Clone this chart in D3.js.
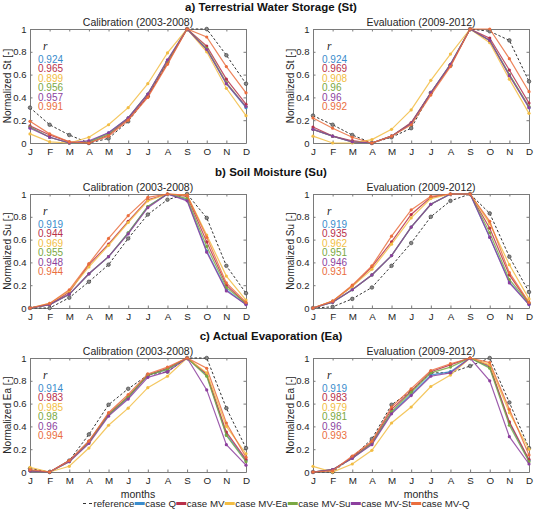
<!DOCTYPE html>
<html>
<head>
<meta charset="utf-8">
<script src="https://cdn.jsdelivr.net/npm/d3@7"></script>
<style>
  body { margin: 0; background: #fff; }
  svg { font-family: "Liberation Sans", Arial, sans-serif; }
</style>
</head>
<body>
<script>
// months and series names
const months = ["J", "F", "M", "A", "M", "J", "J", "A", "S", "O", "N", "D"];
const seriesNames = ["reference", "case Q", "case MV", "case MV-Ea", "case MV-Su", "case MV-St", "case MV-Q"];
const seriesColors = ["#333333", "#3a8ccc", "#b8304a", "#f2bd44", "#7aa843", "#8c3f9e", "#ea6e3e"];

// a) Terrestrial Water Storage - each row: reference, Q, MV, MV-Ea, MV-Su, MV-St, MV-Q
const stCal = [
  [0.31, 0.16, 0.07, 0.00, 0.04, 0.19, 0.41, 0.71, 1.00, 1.00, 0.77, 0.52],
  [0.14, 0.05, 0.00, 0.01, 0.09, 0.22, 0.43, 0.72, 1.00, 0.82, 0.52, 0.31],
  [0.15, 0.07, 0.01, 0.00, 0.07, 0.21, 0.41, 0.70, 1.00, 0.85, 0.56, 0.34],
  [0.08, 0.01, 0.00, 0.05, 0.16, 0.31, 0.52, 0.79, 1.00, 0.80, 0.48, 0.24],
  [0.14, 0.05, 0.00, 0.01, 0.08, 0.22, 0.43, 0.72, 1.00, 0.83, 0.53, 0.32],
  [0.13, 0.05, 0.00, 0.02, 0.09, 0.22, 0.43, 0.73, 1.00, 0.82, 0.52, 0.32],
  [0.19, 0.08, 0.01, 0.00, 0.06, 0.20, 0.40, 0.69, 1.00, 0.93, 0.67, 0.44]
];
const stEval = [
  [0.24, 0.16, 0.07, 0.00, 0.05, 0.13, 0.44, 0.68, 1.00, 0.98, 0.90, 0.54],
  [0.12, 0.06, 0.01, 0.00, 0.06, 0.17, 0.44, 0.69, 1.00, 0.90, 0.60, 0.31],
  [0.14, 0.06, 0.02, 0.00, 0.06, 0.18, 0.44, 0.68, 1.00, 0.92, 0.64, 0.35],
  [0.06, 0.00, 0.00, 0.03, 0.12, 0.29, 0.55, 0.78, 1.00, 0.88, 0.56, 0.26],
  [0.12, 0.06, 0.01, 0.00, 0.06, 0.17, 0.44, 0.69, 1.00, 0.90, 0.60, 0.32],
  [0.12, 0.06, 0.01, 0.00, 0.06, 0.17, 0.44, 0.69, 1.00, 0.90, 0.59, 0.31],
  [0.22, 0.13, 0.05, 0.00, 0.06, 0.16, 0.42, 0.67, 1.00, 1.00, 0.74, 0.45]
];
// b) Soil Moisture
const suCal = [
  [0.00, 0.00, 0.09, 0.23, 0.38, 0.61, 0.82, 0.95, 1.00, 0.79, 0.37, 0.13],
  [0.00, 0.03, 0.12, 0.30, 0.45, 0.66, 0.89, 1.00, 0.95, 0.50, 0.16, 0.03],
  [0.00, 0.03, 0.14, 0.38, 0.56, 0.76, 0.95, 1.00, 0.98, 0.58, 0.20, 0.04],
  [0.00, 0.04, 0.15, 0.36, 0.55, 0.75, 0.94, 1.00, 0.99, 0.64, 0.28, 0.07],
  [0.00, 0.03, 0.12, 0.30, 0.45, 0.66, 0.89, 1.00, 0.96, 0.54, 0.18, 0.04],
  [0.00, 0.03, 0.12, 0.30, 0.45, 0.65, 0.88, 1.00, 0.94, 0.49, 0.15, 0.03],
  [0.00, 0.04, 0.16, 0.39, 0.61, 0.81, 0.97, 1.00, 0.99, 0.62, 0.22, 0.05]
];
const suEval = [
  [0.00, 0.01, 0.08, 0.18, 0.37, 0.57, 0.80, 0.94, 1.00, 0.83, 0.45, 0.14],
  [0.00, 0.05, 0.16, 0.29, 0.46, 0.71, 0.91, 1.00, 1.00, 0.62, 0.23, 0.03],
  [0.00, 0.06, 0.19, 0.36, 0.58, 0.82, 0.97, 1.00, 1.00, 0.70, 0.29, 0.04],
  [0.00, 0.06, 0.19, 0.34, 0.56, 0.79, 0.96, 1.00, 1.00, 0.74, 0.38, 0.08],
  [0.00, 0.05, 0.16, 0.29, 0.46, 0.71, 0.91, 1.00, 1.00, 0.66, 0.25, 0.04],
  [0.00, 0.05, 0.16, 0.29, 0.46, 0.71, 0.91, 1.00, 1.00, 0.62, 0.22, 0.03],
  [0.00, 0.06, 0.20, 0.37, 0.63, 0.86, 0.98, 1.00, 1.00, 0.76, 0.31, 0.05]
];
// c) Actual Evaporation
const eaCal = [
  [0.03, 0.00, 0.10, 0.33, 0.59, 0.73, 0.85, 0.88, 1.00, 1.00, 0.56, 0.21],
  [0.01, 0.00, 0.10, 0.26, 0.50, 0.65, 0.85, 0.90, 1.00, 0.85, 0.33, 0.10],
  [0.01, 0.00, 0.10, 0.27, 0.51, 0.66, 0.85, 0.91, 1.00, 0.86, 0.35, 0.11],
  [0.04, 0.00, 0.05, 0.21, 0.41, 0.56, 0.74, 0.84, 1.00, 0.87, 0.40, 0.16],
  [0.01, 0.00, 0.09, 0.26, 0.50, 0.66, 0.85, 0.90, 1.00, 0.84, 0.32, 0.09],
  [0.01, 0.00, 0.09, 0.25, 0.49, 0.64, 0.83, 0.88, 1.00, 0.72, 0.24, 0.06],
  [0.02, 0.00, 0.10, 0.27, 0.52, 0.68, 0.86, 0.92, 1.00, 0.91, 0.43, 0.13]
];
const eaEval = [
  [0.00, 0.00, 0.13, 0.29, 0.59, 0.71, 0.87, 0.87, 0.93, 1.00, 0.61, 0.21],
  [0.00, 0.02, 0.12, 0.25, 0.52, 0.68, 0.85, 0.88, 1.00, 0.92, 0.43, 0.10],
  [0.00, 0.02, 0.13, 0.26, 0.55, 0.71, 0.88, 0.94, 1.00, 0.93, 0.44, 0.11],
  [0.05, 0.00, 0.07, 0.19, 0.43, 0.57, 0.75, 0.85, 1.00, 0.94, 0.52, 0.20],
  [0.00, 0.02, 0.12, 0.25, 0.53, 0.70, 0.87, 0.92, 1.00, 0.91, 0.41, 0.09],
  [0.00, 0.02, 0.12, 0.24, 0.51, 0.67, 0.84, 0.87, 1.00, 0.80, 0.31, 0.07],
  [0.00, 0.01, 0.14, 0.27, 0.57, 0.73, 0.89, 0.95, 1.00, 0.96, 0.55, 0.15]
];

// correlation coefficients (Q, MV, MV-Ea, MV-Su, MV-St, MV-Q)
const stCalR = ["0.924", "0.965", "0.899", "0.956", "0.957", "0.991"];
const stEvalR = ["0.924", "0.969", "0.908", "0.96", "0.96", "0.992"];
const suCalR = ["0.919", "0.944", "0.969", "0.955", "0.948", "0.944"];
const suEvalR = ["0.919", "0.935", "0.962", "0.951", "0.946", "0.931"];
const eaCalR = ["0.914", "0.983", "0.985", "0.98", "0.96", "0.994"];
const eaEvalR = ["0.919", "0.983", "0.979", "0.981", "0.96", "0.993"];

const rowTitles = ["a) Terrestrial Water Storage (St)", "b) Soil Moisture (Su)", "c) Actual Evaporation (Ea)"];
const yLabels = ["Normalized St [-]", "Normalized Su [-]", "Normalized Ea [-]"];
const colTitles = ["Calibration (2003-2008)", "Evaluation (2009-2012)"];
const yTicks = [0, 0.2, 0.4, 0.6, 0.8, 1];

const panels = [
  { row: 0, col: 0, data: stCal, r: stCalR },
  { row: 0, col: 1, data: stEval, r: stEvalR },
  { row: 1, col: 0, data: suCal, r: suCalR },
  { row: 1, col: 1, data: suEval, r: suEvalR },
  { row: 2, col: 0, data: eaCal, r: eaCalR },
  { row: 2, col: 1, data: eaEval, r: eaEvalR }
];

const width = 535, height = 510;
const plotW = 216, plotH = 114;
const colX = [30, 313];
const rowY = [29, 194, 358];
const boxColor = "#7a7a7a";
const textColor = "#262626";

const svg = d3.select("body").append("svg")
  .attr("width", width)
  .attr("height", height)
  .attr("viewBox", `0 0 ${width} ${height}`);

// row titles
rowTitles.forEach((t, i) => {
  svg.append("text")
    .attr("x", 271)
    .attr("y", rowY[i] - 18)
    .attr("text-anchor", "middle")
    .attr("font-size", 11.5)
    .attr("font-weight", "bold")
    .attr("fill", "#111")
    .text(t);
});

const x = d3.scalePoint(d3.range(12), [0, plotW]);
const y = d3.scaleLinear([0, 1], [plotH, 0]);

const line = d3.line()
  .x((d, i) => x(i))
  .y(d => y(d));

panels.forEach(p => {
  const g = svg.append("g")
    .attr("transform", `translate(${colX[p.col]},${rowY[p.row]})`);

  g.append("rect")
    .attr("width", plotW).attr("height", plotH)
    .attr("fill", "#fff");

  // column title
  g.append("text")
    .attr("x", plotW / 2)
    .attr("y", -3.5)
    .attr("text-anchor", "middle")
    .attr("font-size", 10.5)
    .attr("fill", textColor)
    .text(colTitles[p.col]);

  // y label
  g.append("text")
    .attr("transform", `translate(${-19},${plotH / 2}) rotate(-90)`)
    .attr("text-anchor", "middle")
    .attr("font-size", 10)
    .attr("fill", textColor)
    .text(yLabels[p.row]);

  // axes with inward ticks on all four sides
  const axisStyle = a => a
    .call(s => s.select(".domain").attr("stroke", boxColor))
    .call(s => s.selectAll(".tick line").attr("stroke", boxColor))
    .call(s => s.selectAll(".tick text").attr("fill", textColor).attr("font-size", 9.8));

  g.append("g")
    .call(d3.axisLeft(y).tickValues(yTicks).tickFormat(d3.format("~g")).tickSizeInner(-2.5).tickSizeOuter(0).tickPadding(3.5))
    .call(axisStyle)
    .call(s => s.selectAll(".tick text").attr("font-size", 9.5))
    .call(s => s.attr("font-family", null));
  g.append("g")
    .attr("transform", `translate(${plotW},0)`)
    .call(d3.axisRight(y).tickValues(yTicks).tickFormat("").tickSizeInner(-2.5).tickSizeOuter(0))
    .call(axisStyle);
  g.append("g")
    .attr("transform", `translate(0,${plotH})`)
    .call(d3.axisBottom(x).tickFormat(i => months[i]).tickSizeInner(-2.5).tickSizeOuter(0).tickPadding(5))
    .call(axisStyle)
    .call(s => s.attr("font-family", null));
  g.append("g")
    .call(d3.axisTop(x).tickFormat("").tickSizeInner(-2.5).tickSizeOuter(0))
    .call(axisStyle);

  // series lines
  p.data.forEach((vals, si) => {
    const isRef = si === 0;
    g.append("path")
      .attr("d", line(vals))
      .attr("fill", "none")
      .attr("stroke", seriesColors[si])
      .attr("stroke-width", isRef ? 1 : 1.2)
      .attr("stroke-dasharray", isRef ? "2.5,2" : null)
      .attr("stroke-opacity", isRef ? 1 : 0.85);
    g.append("g")
      .selectAll("circle")
      .data(vals)
      .join("circle")
      .attr("cx", (d, i) => x(i))
      .attr("cy", d => y(d))
      .attr("r", isRef ? 1.8 : 1.6)
      .attr("fill", isRef ? "#888" : seriesColors[si])
      .attr("stroke", isRef ? "#333" : "none")
      .attr("stroke-width", 0.6);
  });

  // r annotations
  const ax = p.col === 0 ? 8 : 9;
  g.append("text")
    .attr("x", ax + 5)
    .attr("y", 21)
    .attr("font-family", "'Liberation Serif', serif")
    .attr("font-style", "italic")
    .attr("font-size", 11.5)
    .attr("fill", textColor)
    .text("r");
  p.r.forEach((v, i) => {
    g.append("text")
      .attr("x", ax)
      .attr("y", 33.5 + i * 9.5)
      .attr("font-size", 10)
      .attr("fill", seriesColors[i + 1])
      .text(v);
  });
});

// x labels "months" under bottom row
colX.forEach(cx => {
  svg.append("text")
    .attr("x", cx + plotW / 2)
    .attr("y", rowY[2] + plotH + 26)
    .attr("text-anchor", "middle")
    .attr("font-size", 10.5)
    .attr("fill", textColor)
    .text("months");
});

// legend
const legend = svg.append("g").attr("transform", `translate(83,${height - 3})`);
let lx = 0;
seriesNames.forEach((name, i) => {
  if (i === 0) {
    legend.append("line")
      .attr("x1", lx).attr("x2", lx + 10)
      .attr("y1", -3.5).attr("y2", -3.5)
      .attr("stroke", seriesColors[0])
      .attr("stroke-width", 1.2)
      .attr("stroke-dasharray", "3,3");
  } else {
    legend.append("line")
      .attr("x1", lx).attr("x2", lx + 10)
      .attr("y1", -3.5).attr("y2", -3.5)
      .attr("stroke", seriesColors[i])
      .attr("stroke-width", 3);
  }
  const t = legend.append("text")
    .attr("x", lx + 10.5)
    .attr("y", 0)
    .attr("font-size", 9.7)
    .attr("fill", textColor)
    .text(name);
  lx += 10.5 + t.node().getComputedTextLength() + 0.3;
});
</script>
</body>
</html>
